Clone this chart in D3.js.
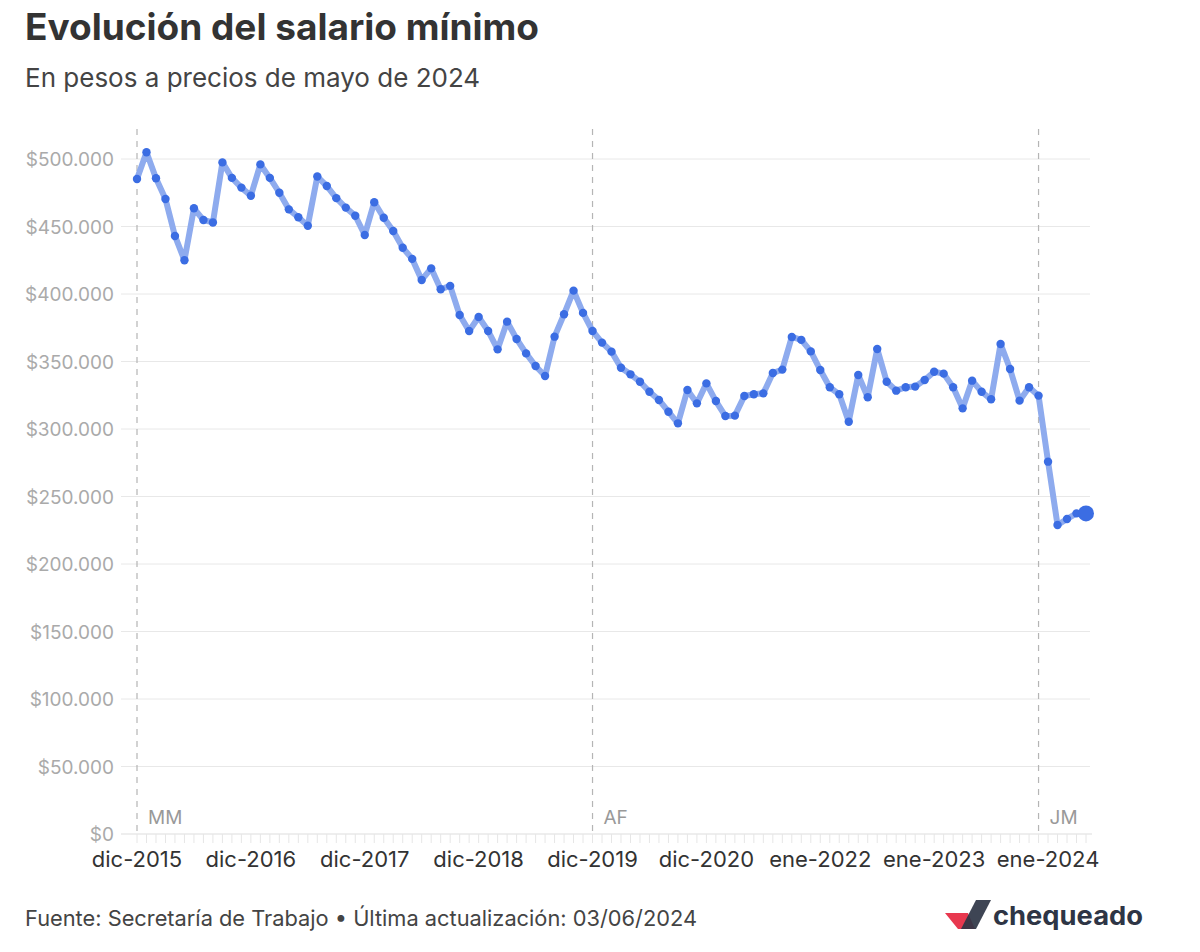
<!DOCTYPE html>
<html>
<head>
<meta charset="utf-8">
<script src="https://cdn.jsdelivr.net/npm/d3@7"></script>
<style>
  body { margin: 0; background: #fff; }
  svg { font-family: Inter, Roboto, "Noto Sans", sans-serif; }
</style>
</head>
<body>
<svg width="1200" height="952"></svg>
<script>
// Months (one month of 2021 is missing in the source series)
var months = [
  "dic-2015",
  "ene-2016","feb-2016","mar-2016","abr-2016","may-2016","jun-2016","jul-2016","ago-2016","sep-2016","oct-2016","nov-2016","dic-2016",
  "ene-2017","feb-2017","mar-2017","abr-2017","may-2017","jun-2017","jul-2017","ago-2017","sep-2017","oct-2017","nov-2017","dic-2017",
  "ene-2018","feb-2018","mar-2018","abr-2018","may-2018","jun-2018","jul-2018","ago-2018","sep-2018","oct-2018","nov-2018","dic-2018",
  "ene-2019","feb-2019","mar-2019","abr-2019","may-2019","jun-2019","jul-2019","ago-2019","sep-2019","oct-2019","nov-2019","dic-2019",
  "ene-2020","feb-2020","mar-2020","abr-2020","may-2020","jun-2020","jul-2020","ago-2020","sep-2020","oct-2020","nov-2020","dic-2020",
  "ene-2021","feb-2021","mar-2021","abr-2021","may-2021","jun-2021","jul-2021","ago-2021","sep-2021","oct-2021","nov-2021",
  "ene-2022","feb-2022","mar-2022","abr-2022","may-2022","jun-2022","jul-2022","ago-2022","sep-2022","oct-2022","nov-2022","dic-2022",
  "ene-2023","feb-2023","mar-2023","abr-2023","may-2023","jun-2023","jul-2023","ago-2023","sep-2023","oct-2023","nov-2023","dic-2023",
  "ene-2024","feb-2024","mar-2024","abr-2024","may-2024"
];

// Salario mínimo real, pesos de mayo 2024
var salary = [
  485200,
  505000,485700,470400,443000,425000,463500,454800,453000,497500,486000,478800,472800,
  496000,486000,475000,462700,456800,450600,487000,480000,471000,464000,458000,443700,
  468000,456500,446700,434300,426000,410400,419000,403500,406000,384400,372600,383000,
  372600,359000,379500,366700,356000,346700,339300,368400,385000,402500,386000,372600,
  364000,357300,345400,340500,335000,327600,321500,312800,304200,328900,319000,333800,
  320700,309600,309900,324400,325700,326400,341500,344000,368200,366000,357500,
  343700,330900,325700,305400,340000,323500,359300,335000,328400,330900,331400,336300,
  342400,341000,330900,315300,335800,327600,322000,363000,344400,321000,330900,324700,
  275800,228900,233300,237500,237500
];

var tickLabels = ["dic-2015","dic-2016","dic-2017","dic-2018","dic-2019","dic-2020","ene-2022","ene-2023","ene-2024"];
var yTicks = [0,50000,100000,150000,200000,250000,300000,350000,400000,450000,500000];
var periodNames = ["MM","AF","JM"];
var periodStarts = ["dic-2015","dic-2019","dic-2023"];

var svg = d3.select("svg");

var locale = d3.formatLocale({decimal: ",", thousands: ".", grouping: [3], currency: ["$", ""]});
var fmt = locale.format("$,");

var x = d3.scalePoint().domain(months).range([137, 1086]);
var y = d3.scaleLinear().domain([0, 500000]).range([834, 159]);

// titles
svg.append("text").attr("x", 25).attr("y", 40)
  .style("font-size", "37px").style("font-weight", 700).style("fill", "#333")
  .text("Evolución del salario mínimo");
svg.append("text").attr("x", 25).attr("y", 87)
  .style("font-size", "26px").style("fill", "#444")
  .text("En pesos a precios de mayo de 2024");

// grid + y labels
var yAxis = svg.append("g");
yAxis.selectAll("line").data(yTicks.slice(1)).enter().append("line")
  .attr("x1", 121).attr("x2", 1090)
  .attr("y1", d => y(d)).attr("y2", d => y(d))
  .style("stroke", "#e8e8e8").style("stroke-width", 1);
yAxis.selectAll("text").data(yTicks).enter().append("text")
  .attr("x", 114).attr("y", d => y(d) + 7)
  .attr("text-anchor", "end")
  .style("font-size", "19px").style("fill", "#aaa")
  .text(d => fmt(d));

// baseline and month ticks
svg.append("line").attr("x1", 121).attr("x2", 1092).attr("y1", y(0)).attr("y2", y(0))
  .style("stroke", "#ddd");
svg.append("g").selectAll("line").data(months).enter().append("line")
  .attr("x1", d => x(d)).attr("x2", d => x(d))
  .attr("y1", y(0)).attr("y2", y(0) + 9)
  .style("stroke", "#e6e6e6");

svg.append("g").selectAll("text").data(tickLabels).enter().append("text")
  .attr("x", d => x(d)).attr("y", 867)
  .attr("text-anchor", "middle")
  .style("font-size", "22px").style("fill", "#333")
  .text(d => d);

// government periods
var per = svg.append("g").selectAll("g").data(periodStarts).enter().append("g");
per.append("line")
  .attr("x1", d => x(d)).attr("x2", d => x(d))
  .attr("y1", 129).attr("y2", y(0))
  .style("stroke", "#b5b5b5").style("stroke-width", 1.2)
  .style("stroke-dasharray", "6,6");
per.append("text")
  .attr("x", d => x(d) + 11).attr("y", 824)
  .style("font-size", "19px").style("fill", "#999")
  .text((d, i) => periodNames[i]);

// line + dots
var line = d3.line().x((d, i) => x(months[i])).y(d => y(d));
svg.append("path").datum(salary)
  .attr("d", line)
  .style("fill", "none").style("stroke", "#8eabee").style("stroke-width", 6)
  .style("stroke-linejoin", "round").style("stroke-linecap", "round");
svg.append("g").selectAll("circle").data(salary).enter().append("circle")
  .attr("cx", (d, i) => x(months[i])).attr("cy", d => y(d))
  .attr("r", (d, i) => i === salary.length - 1 ? 8 : 4.2)
  .style("fill", "#3b6de3");

// footer
svg.append("text").attr("x", 25).attr("y", 926)
  .style("font-size", "21.8px").style("fill", "#444")
  .text("Fuente: Secretaría de Trabajo • Última actualización: 03/06/2024");

// logo
var logo = svg.append("g");
logo.append("polygon").attr("points", "945,913 968,913 975,929 958,929").style("fill", "#e8384f");
logo.append("polygon").attr("points", "976,900 991,900 976,929 961,929").style("fill", "#2e3545").style("opacity", 0.92);
logo.append("text").attr("x", 993).attr("y", 925)
  .attr("textLength", 150).attr("lengthAdjust", "spacingAndGlyphs")
  .style("font-size", "26px").style("font-weight", 700).style("fill", "#2e3545")
  .text("chequeado");
</script>
</body>
</html>
